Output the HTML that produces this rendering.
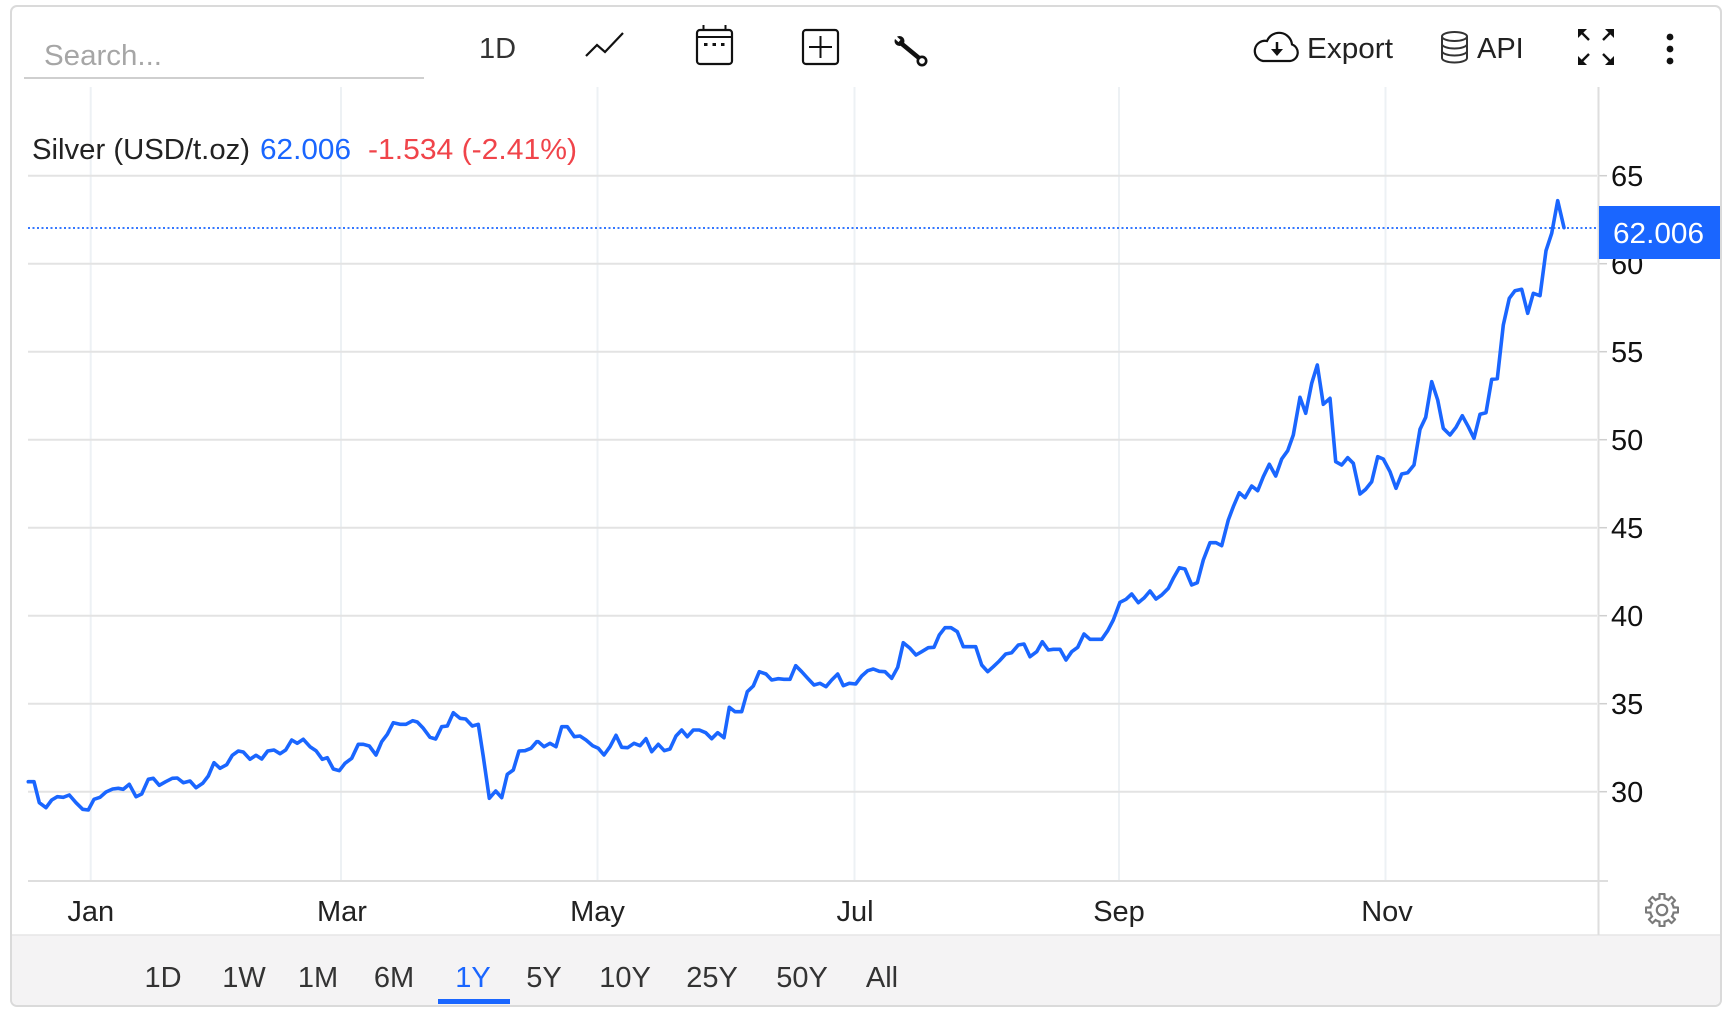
<!DOCTYPE html>
<html><head><meta charset="utf-8"><style>
html,body{margin:0;padding:0;background:#fff;width:1728px;height:1018px;overflow:hidden}
svg{display:block}
text{font-family:"Liberation Sans",Arial,sans-serif}
</style></head><body>
<svg width="1728" height="1018" viewBox="0 0 1728 1018" xmlns="http://www.w3.org/2000/svg">
<!-- widget frame -->
<rect x="11" y="6" width="1710" height="1000" rx="6" ry="6" fill="#fff" stroke="#dadada" stroke-width="2"/>
<!-- footer -->
<path d="M12 935 H1720 V999 a6 6 0 0 1 -6 6 H18 a6 6 0 0 1 -6 -6 Z" fill="#f4f3f4"/>
<line x1="12" y1="935" x2="1720" y2="935" stroke="#e6e6e6" stroke-width="1.5"/>

<!-- toolbar -->
<text x="44" y="65" font-size="29" fill="#a6a6a6" textLength="118" lengthAdjust="spacingAndGlyphs">Search...</text>
<line x1="24" y1="78" x2="424" y2="78" stroke="#cfcfcf" stroke-width="2"/>
<text x="479" y="58" font-size="29" fill="#333">1D</text>
<polyline points="586,56 597,45 605,52 623,33" fill="none" stroke="#111" stroke-width="2.2"/>
<!-- calendar -->
<rect x="697" y="30" width="35" height="34" rx="3" fill="none" stroke="#111" stroke-width="2.2"/>
<line x1="697" y1="37" x2="732" y2="37" stroke="#111" stroke-width="2"/>
<line x1="703.5" y1="25" x2="703.5" y2="31" stroke="#111" stroke-width="2"/>
<line x1="725.5" y1="25" x2="725.5" y2="31" stroke="#111" stroke-width="2"/>
<rect x="704" y="43" width="3.5" height="3" fill="#111"/>
<rect x="712.5" y="43" width="3.5" height="3" fill="#111"/>
<rect x="721" y="43" width="3.5" height="3" fill="#111"/>
<!-- plus box -->
<rect x="803" y="30" width="35" height="34" rx="3" fill="none" stroke="#111" stroke-width="2.2"/>
<line x1="809" y1="47" x2="832" y2="47" stroke="#111" stroke-width="2"/>
<line x1="820.5" y1="36" x2="820.5" y2="58" stroke="#111" stroke-width="2"/>
<!-- wrench -->
<line x1="902" y1="44" x2="919" y2="58" stroke="#111" stroke-width="4.5" stroke-linecap="round"/>
<circle cx="899.5" cy="41" r="5" fill="#111"/>
<line x1="894" y1="36" x2="899.5" y2="41" stroke="#fff" stroke-width="3"/>
<circle cx="922" cy="61" r="4.2" fill="#fff" stroke="#111" stroke-width="2.6"/>
<!-- export cloud -->
<path d="M1263 61 H1290 A8.5 8.5 0 0 0 1292 44.5 A13 13 0 0 0 1267 41 A10 10 0 0 0 1263 61 Z" fill="none" stroke="#111" stroke-width="2.2"/>
<line x1="1277" y1="42" x2="1277" y2="50" stroke="#111" stroke-width="2.5"/>
<polygon points="1271,49 1283,49 1277,56" fill="#111"/>
<text x="1307" y="58" font-size="29" fill="#222" textLength="86" lengthAdjust="spacingAndGlyphs">Export</text>
<!-- database -->
<ellipse cx="1454.5" cy="36.5" rx="12.5" ry="4.5" fill="none" stroke="#333" stroke-width="2"/>
<path d="M1442 36.5 V58 A12.5 4.5 0 0 0 1467 58 V36.5" fill="none" stroke="#333" stroke-width="2"/>
<path d="M1442 44 A12.5 4.5 0 0 0 1467 44" fill="none" stroke="#333" stroke-width="2"/>
<path d="M1442 51 A12.5 4.5 0 0 0 1467 51" fill="none" stroke="#333" stroke-width="2"/>
<text x="1477" y="58" font-size="29" fill="#222">API</text>
<!-- fullscreen -->
<g fill="#111" stroke="#111" stroke-width="2.4">
<polygon points="1578,29 1587,29 1578,38" stroke="none"/>
<line x1="1580" y1="31" x2="1589" y2="40"/>
<polygon points="1614,29 1605,29 1614,38" stroke="none"/>
<line x1="1612" y1="31" x2="1603" y2="40"/>
<polygon points="1578,65 1587,65 1578,56" stroke="none"/>
<line x1="1580" y1="63" x2="1589" y2="54"/>
<polygon points="1614,65 1605,65 1614,56" stroke="none"/>
<line x1="1612" y1="63" x2="1603" y2="54"/>
</g>
<!-- kebab -->
<circle cx="1670" cy="37" r="3.4" fill="#111"/>
<circle cx="1670" cy="49" r="3.4" fill="#111"/>
<circle cx="1670" cy="61" r="3.4" fill="#111"/>

<!-- vertical grid -->
<g stroke="#edf1f4" stroke-width="2">
<line x1="90.7" y1="87" x2="90.7" y2="880"/>
<line x1="341" y1="87" x2="341" y2="880"/>
<line x1="597.5" y1="87" x2="597.5" y2="880"/>
<line x1="854.5" y1="87" x2="854.5" y2="880"/>
<line x1="1119" y1="87" x2="1119" y2="880"/>
<line x1="1385.5" y1="87" x2="1385.5" y2="880"/>
</g>
<!-- horizontal grid -->
<g stroke="#e3e3e3" stroke-width="2">
<line x1="28" y1="175.7" x2="1597" y2="175.7"/>
<line x1="28" y1="263.7" x2="1597" y2="263.7"/>
<line x1="28" y1="351.7" x2="1597" y2="351.7"/>
<line x1="28" y1="439.7" x2="1597" y2="439.7"/>
<line x1="28" y1="527.7" x2="1597" y2="527.7"/>
<line x1="28" y1="615.7" x2="1597" y2="615.7"/>
<line x1="28" y1="703.7" x2="1597" y2="703.7"/>
<line x1="28" y1="791.7" x2="1597" y2="791.7"/>
</g>
<g stroke="#cfcfcf" stroke-width="1.5">
<line x1="1599" y1="175.7" x2="1607" y2="175.7"/>
<line x1="1599" y1="263.7" x2="1607" y2="263.7"/>
<line x1="1599" y1="351.7" x2="1607" y2="351.7"/>
<line x1="1599" y1="439.7" x2="1607" y2="439.7"/>
<line x1="1599" y1="527.7" x2="1607" y2="527.7"/>
<line x1="1599" y1="615.7" x2="1607" y2="615.7"/>
<line x1="1599" y1="703.7" x2="1607" y2="703.7"/>
<line x1="1599" y1="791.7" x2="1607" y2="791.7"/>
</g>
<!-- axes -->
<line x1="1598.5" y1="87" x2="1598.5" y2="935" stroke="#dedede" stroke-width="2"/>
<line x1="28" y1="881" x2="1608" y2="881" stroke="#dedede" stroke-width="2"/>

<!-- title -->
<text x="32" y="159" font-size="29" fill="#222" textLength="218" lengthAdjust="spacingAndGlyphs">Silver (USD/t.oz)</text>
<text x="260" y="159" font-size="29" fill="#1a66ff" textLength="91" lengthAdjust="spacingAndGlyphs">62.006</text>
<text x="368" y="159" font-size="29" fill="#f0444a" textLength="209" lengthAdjust="spacingAndGlyphs">-1.534 (-2.41%)</text>

<!-- y labels -->
<g font-size="29" fill="#111">
<text x="1611" y="186">65</text>
<text x="1611" y="274">60</text>
<text x="1611" y="362">55</text>
<text x="1611" y="450">50</text>
<text x="1611" y="538">45</text>
<text x="1611" y="626">40</text>
<text x="1611" y="714">35</text>
<text x="1611" y="802">30</text>
</g>

<!-- last price dotted line -->
<line x1="28" y1="228" x2="1597" y2="228" stroke="#1a66ff" stroke-width="1.8" stroke-dasharray="2 2.5"/>

<!-- series -->
<polyline fill="none" stroke="#1a66ff" stroke-width="3.6" stroke-linejoin="round" stroke-linecap="round" points="
28.3,781.7 34,781.7 39.3,802.7 46,807.7 51.7,800 57.3,796.7 63.3,797.3 69.3,795 76,802.7 82.7,809.3 88.3,810 94,799.3 100,797.3 106,792 112.7,789 118.3,788.3 123.3,789.3 129.3,784.3 136,796.7 141.7,794 148.3,779.3 153.3,778.3 159.3,785.3 165.7,781.7 172.3,778.3 177.3,778 183.3,782.7 190,781 196,787.7 202.7,783.3 208.3,776 214,762.7 220,768.3 226.7,764.7 232.3,755.3 238.3,751 243.3,752 250,759.3 256,755.3 261.7,759 267.7,751 274,750 280,753.7 285.7,750 291.7,740 297.3,743.3 303.3,739.3 310,746.7 316,750.7 322.3,759.3 327.3,757.7 333.3,769 339.3,770.7 345,763.3 351.7,758.3 358.3,744.3 363.3,744.3 369.3,746 376,755 381.7,741.7 387.3,734.3 393.3,722.7 400,724.3 406,724.3 412.7,720.7 417.3,722 423.3,728.3 430,737.3 435.7,739 441.7,726.7 447.3,726 453.3,712.7 460,718.3 465.7,719 472.3,726 478.3,724.3 483.3,756.7 489.3,798.3 495.7,791 501.7,797.7 507.3,774.3 513.3,770 519,751 525,750.7 531,748.3 536.7,741.7
538.3,741.7 544,746.7 550,743.3 556,746.7 561.7,726.7 567.3,726.7 574.3,736.7 580,736 586,740 592.7,745.7 598.3,748.3 604,755 610,746.7 616,735.3 621.7,747.3 627.7,747.7 634,743.3 640,745.7 646,738.7 651.7,751.7 658.3,744.3 664.3,750.7 670,749 676,736 681.7,730 687.3,736.7 693.3,730 699.3,730 705.7,732.7 711.7,738.7 717.7,732.7 724,737.7 729.3,707.3 735,711.7 741.7,711.7 747.3,691.7 753.3,686 759.3,671.7 766,674 771.7,680 778.3,678.7 784,679.3 790,679.3 795.7,665.7 801.7,671.7 807.7,678.3 814,685 820,683.3 826,686.7 831.7,680 837.7,674 843.3,685.7 849.3,683.3 855.7,684 861.7,676 867.7,670.7 873.3,669 879.3,671.3 885,671.7 891.7,678.3 897.7,667.3 903.3,642.7 910,648.3 916,655 921.7,651.7 928.3,647.7 934,647.3 939.3,635 945,627.7 951,627.7 957.3,631.7 963.3,646.7 969.3,646.7 975.7,646.7 981.7,665 987.7,671.7 993.3,666.7 999.3,661 1005.7,654 1011.7,652.7 1018.3,645 1024,644 1030,656.7 1036.7,651.7 1042.3,641.7 1048.3,650
1053.3,649.3 1060,649.3 1066,660 1071.7,651.7 1077.7,647.3 1084,634 1090,639.3 1096,639.3 1101.7,639.3 1107.7,630.7 1113.3,620 1120,602.3 1126,599.3 1131.7,594 1138.3,602.7 1144.3,597.7 1150,591 1156,599 1161.7,595 1168.3,588.3 1173.3,578.3 1179.3,567.7 1185,569 1191.7,585 1197.3,582.7 1203.3,560 1210,542.7 1216,542.7 1221.7,545.7 1228.3,520 1233.3,506.7 1239.3,492.7 1245,497.7 1251.7,486 1257.7,490.7 1263.3,476.7 1269.3,464.3 1275.7,476 1281.7,459 1287.7,450.7 1293.3,435 1300,397.3
1305.7,413.3 1311.7,383.3 1317.3,365 1323.3,404.3 1330,398.3 1335.7,461.7 1341.7,465 1347.7,457.7 1353.3,463.3 1360,494 1365.7,489.3 1371.7,481.7 1377.7,456.7 1383.3,459 1390,471.7 1396,488.3 1401.7,474 1407.7,472.7 1414,465 1420,429.3 1425.7,417.3 1431.7,381.7 1437.7,400 1443.3,428.3 1450,435 1456,427.3 1462.3,415.7 1468.3,426.7 1474,438.3 1480,414.3 1486,412.7 1491.7,379.3 1497.3,378.7 1503.3,325 1509.3,298.3 1515,290.7 1521.7,289.3 1527.7,313.3 1533.3,293.3 1540,295.7 1546,250.7 1551.7,233.3 1557.7,200.7 1564,227.7"/>

<!-- price label -->
<rect x="1599" y="206" width="121" height="53" fill="#1a66ff"/>
<text x="1613" y="243" font-size="29" fill="#fff" textLength="91" lengthAdjust="spacingAndGlyphs">62.006</text>

<!-- x labels -->
<g font-size="29" fill="#222" text-anchor="middle">
<text x="90.7" y="921">Jan</text>
<text x="342" y="921">Mar</text>
<text x="597.5" y="921">May</text>
<text x="855" y="921">Jul</text>
<text x="1119" y="921">Sep</text>
<text x="1387" y="921">Nov</text>
</g>

<!-- gear -->
<g transform="translate(1662,910)">
<g fill="#7a7a7a">
<rect x="-3.6" y="-17" width="7.2" height="8" rx="1"/>
<rect x="-3.6" y="-17" width="7.2" height="8" rx="1" transform="rotate(45)"/>
<rect x="-3.6" y="-17" width="7.2" height="8" rx="1" transform="rotate(90)"/>
<rect x="-3.6" y="-17" width="7.2" height="8" rx="1" transform="rotate(135)"/>
<rect x="-3.6" y="-17" width="7.2" height="8" rx="1" transform="rotate(180)"/>
<rect x="-3.6" y="-17" width="7.2" height="8" rx="1" transform="rotate(225)"/>
<rect x="-3.6" y="-17" width="7.2" height="8" rx="1" transform="rotate(270)"/>
<rect x="-3.6" y="-17" width="7.2" height="8" rx="1" transform="rotate(315)"/>
<circle r="13"/>
</g>
<g fill="#fff">
<circle r="10.8"/>
<rect x="-1.4" y="-15" width="2.8" height="6"/>
<rect x="-1.4" y="-15" width="2.8" height="6" transform="rotate(45)"/>
<rect x="-1.4" y="-15" width="2.8" height="6" transform="rotate(90)"/>
<rect x="-1.4" y="-15" width="2.8" height="6" transform="rotate(135)"/>
<rect x="-1.4" y="-15" width="2.8" height="6" transform="rotate(180)"/>
<rect x="-1.4" y="-15" width="2.8" height="6" transform="rotate(225)"/>
<rect x="-1.4" y="-15" width="2.8" height="6" transform="rotate(270)"/>
<rect x="-1.4" y="-15" width="2.8" height="6" transform="rotate(315)"/>
</g>
<circle r="5.2" fill="none" stroke="#7a7a7a" stroke-width="2.2"/>
</g>

<!-- range buttons -->
<g font-size="29" fill="#333" text-anchor="middle">
<text x="163" y="987">1D</text>
<text x="244" y="987">1W</text>
<text x="318" y="987">1M</text>
<text x="394" y="987">6M</text>
<text x="473" y="987" fill="#1a66ff">1Y</text>
<text x="544" y="987">5Y</text>
<text x="625" y="987">10Y</text>
<text x="712" y="987">25Y</text>
<text x="802" y="987">50Y</text>
<text x="882" y="987">All</text>
</g>
<rect x="438" y="999" width="72" height="5" fill="#1a66ff"/>
</svg>
</body></html>
